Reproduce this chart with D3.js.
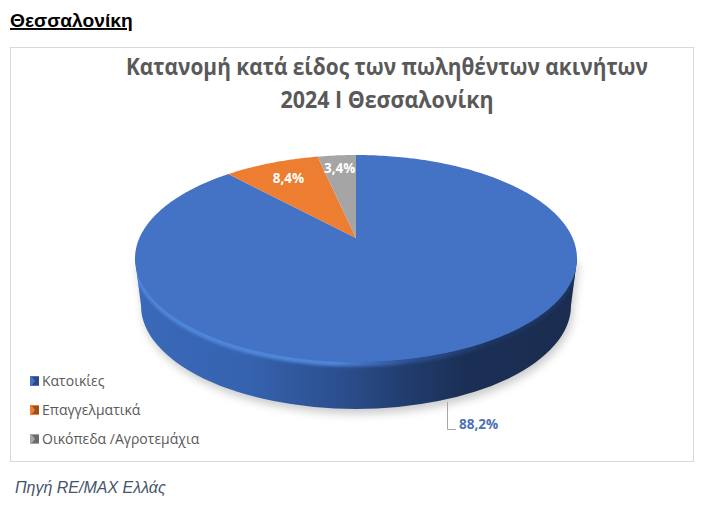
<!DOCTYPE html>
<meta charset="utf-8">
<style>
  body { margin: 0; background: #fff; }
  text { font-family: "Open Sans", sans-serif; }
</style>
<script src="https://d3js.org/d3.v7.min.js"></script>
<div id="chart"></div>
<script>
// data
var categories = ["Κατοικίες", "Επαγγελματικά", "Οικόπεδα /Αγροτεμάχια"];
var values = [88.2, 8.4, 3.4];
var colors = ["#4472c4", "#ed7d31", "#a5a5a5"];
var titleLines = ["Κατανομή κατά είδος των πωληθέντων ακινήτων", "2024 Ι Θεσσαλονίκη"];
var titleWidths = [522, 213];

var width = 714, height = 505;
var svg = d3.select("#chart").append("svg")
    .attr("width", width).attr("height", height)
    .style("display", "block");

// pie lies tilted, so a circle goes through a perspective projection
var cx = 356, cy = 238, A = 216.6, B = 99.4, k = 0.198;
function project(angle, r) {
  var X = Math.sin(angle) * r, Y = Math.cos(angle) * r, w = 1 + k * Y;
  return [cx + A * X / w, cy - B * Y / w];
}
// ellipse the rim projects to
var rimY = 258.5, rimRx = 221, rimRy = 103.5;
var depth = 47, baseRx = 215;

var defs = svg.append("defs");
defs.append("filter").attr("id", "shadow")
    .attr("x", "-10%").attr("y", "-10%").attr("width", "120%").attr("height", "120%")
  .append("feGaussianBlur").attr("stdDeviation", 4);
defs.append("filter").attr("id", "soft")
    .attr("x", "-5%").attr("y", "-5%").attr("width", "110%").attr("height", "110%")
  .append("feGaussianBlur").attr("stdDeviation", 1.5);

function hGradient(id, stops) {
  var g = defs.append("linearGradient").attr("id", id)
      .attr("gradientUnits", "userSpaceOnUse")
      .attr("x1", cx - rimRx).attr("x2", cx + rimRx).attr("y1", 0).attr("y2", 0);
  stops.forEach(function(s) {
    g.append("stop").attr("offset", s[0]).attr("stop-color", s[1]);
  });
}
hGradient("sideFill", [[0, "#3a69b8"], [0.25, "#3663b0"], [0.45, "#2c5090"], [0.65, "#1f3967"], [0.75, "#1b2f55"], [1, "#1a2d50"]]);
hGradient("bevel", [[0, "#5087dc"], [0.45, "#5087dc"], [0.62, "#2d5193"], [0.8, "#1d3561"], [1, "#1d3561"]]);

// card
svg.append("rect")
    .attr("x", 10.5).attr("y", 47.5).attr("width", 683).attr("height", 414)
    .attr("fill", "#fff").attr("stroke", "#d9d9d9");

// page heading and source line
svg.append("text")
    .attr("x", 10).attr("y", 27)
    .style("font-family", "'Liberation Sans', sans-serif")
    .style("font-size", "19.2px").style("font-weight", "bold")
    .style("text-decoration", "underline")
    .attr("fill", "#000")
    .text("Θεσσαλονίκη");
svg.append("text")
    .attr("x", 15).attr("y", 493)
    .style("font-family", "'Liberation Sans', sans-serif")
    .style("font-size", "16px").style("font-style", "italic")
    .attr("fill", "#44546a")
    .text("Πηγή RE/MAX Ελλάς");

// title, squeezed a little to the width of the original font
svg.selectAll(".title").data(titleLines).enter().append("text")
    .attr("class", "title")
    .attr("x", 387).attr("y", function(d, i) { return 75 + i * 33; })
    .attr("text-anchor", "middle")
    .attr("textLength", function(d, i) { return titleWidths[i]; })
    .attr("lengthAdjust", "spacingAndGlyphs")
    .attr("fill", "#595959")
    .style("font-size", "22.5px").style("font-weight", "bold")
    .text(function(d) { return d; });

// side wall outline: rim tangents joined by the lower half of the base ellipse
var sidePath = "M" + (cx - rimRx) + "," + rimY +
    "L" + (cx - baseRx) + "," + (rimY + depth) +
    "A" + baseRx + "," + rimRy + " 0 0 0 " + (cx + baseRx) + "," + (rimY + depth) +
    "L" + (cx + rimRx) + "," + rimY + "Z";

svg.append("path").attr("d", sidePath)
    .attr("transform", "translate(2,5)")
    .attr("fill", "#999").attr("opacity", 0.5)
    .attr("filter", "url(#shadow)");
svg.append("path").attr("d", sidePath).attr("fill", "url(#sideFill)");

// bevel along the rim, kept inside the wall
defs.append("clipPath").attr("id", "wall").append("path").attr("d", sidePath);
svg.append("g").attr("clip-path", "url(#wall)")
  .append("ellipse")
    .attr("cx", cx).attr("cy", rimY + 1.5).attr("rx", rimRx - 1).attr("ry", rimRy)
    .attr("fill", "none").attr("stroke", "url(#bevel)").attr("stroke-width", 6)
    .attr("filter", "url(#soft)");

// top face
var pie = d3.pie().sort(null).value(function(d) { return d; });
var arcs = pie(values);
var outline = d3.line();
function slicePath(d) {
  var n = Math.max(2, Math.ceil((d.endAngle - d.startAngle) * 60)), pts = [project(0, 0)];
  d3.range(n + 1).forEach(function(i) {
    pts.push(project(d.startAngle + (d.endAngle - d.startAngle) * i / n, 1));
  });
  return outline(pts) + "Z";
}
svg.selectAll(".slice").data(arcs).enter().append("path")
    .attr("class", "slice")
    .attr("d", slicePath)
    .attr("fill", function(d, i) { return colors[i]; });

function pct(v) { return v.toFixed(1).replace(".", ",") + "%"; }

// labels inside the two small slices
var labelRadius = [0, 0.77, 0.82];
svg.selectAll(".inLabel").data(arcs.slice(1)).enter().append("text")
    .attr("class", "inLabel")
    .attr("text-anchor", "middle")
    .attr("fill", "#fff")
    .style("font-size", "13.5px").style("font-weight", "bold")
    .attr("transform", function(d) {
      var p = project((d.startAngle + d.endAngle) / 2, labelRadius[d.index]);
      return "translate(" + p[0] + "," + (p[1] + 5) + ")";
    })
    .text(function(d) { return pct(d.value); });

// outside label with leader line for the big slice
svg.append("path")
    .attr("d", d3.line()([[447.5, 402], [447.5, 429.5], [456, 429.5]]))
    .attr("fill", "none").attr("stroke", "#a6a6a6");
svg.append("text")
    .attr("x", 459).attr("y", 429)
    .attr("fill", "#4a70b5")
    .style("font-size", "13.5px").style("font-weight", "bold")
    .text(pct(values[0]));

// legend
var legend = svg.selectAll(".legend").data(categories).enter().append("g")
    .attr("class", "legend")
    .attr("transform", function(d, i) { return "translate(30," + (376 + i * 29) + ")"; });
legend.append("rect")
    .attr("width", 9).attr("height", 10)
    .attr("fill", function(d, i) { return colors[i]; });
legend.append("path")
    .attr("d", "M2,1L9,1L9,9L2,9L5,5Z")
    .attr("fill", "#000").attr("opacity", 0.35);
legend.append("text")
    .attr("x", 12).attr("y", 10)
    .attr("fill", "#595959")
    .style("font-size", "14px")
    .text(function(d) { return d; });
</script>
